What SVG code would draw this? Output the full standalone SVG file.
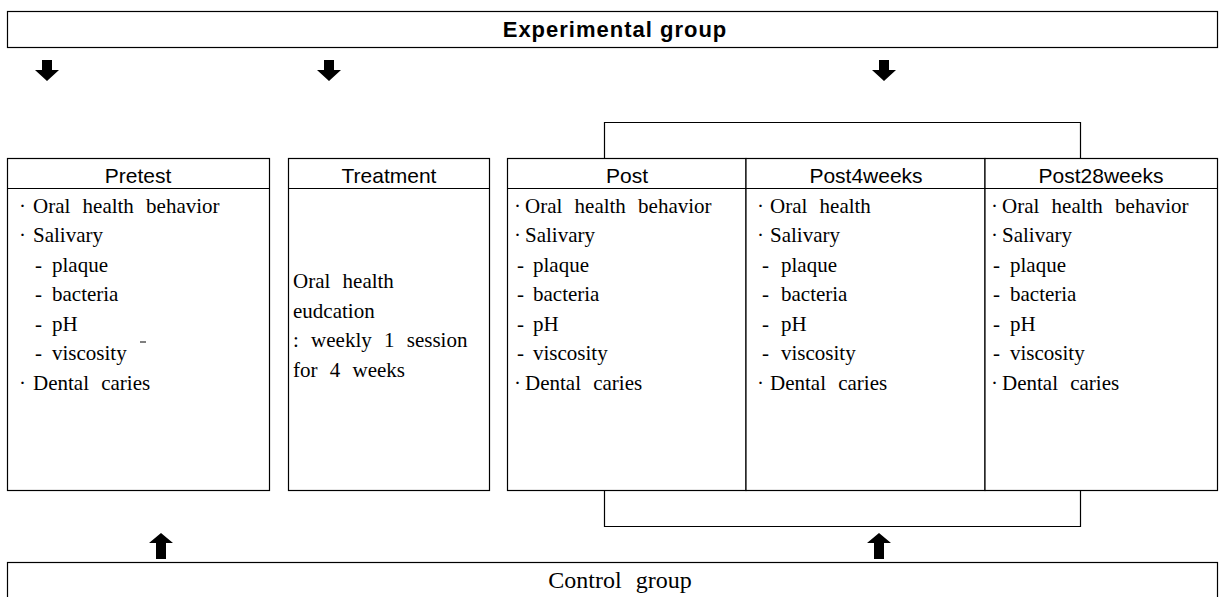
<svg xmlns="http://www.w3.org/2000/svg" width="1225" height="597" viewBox="0 0 1225 597">
<style>
  .box{fill:#fff;stroke:#000;stroke-width:1.2}
  .ln{fill:none;stroke:#000;stroke-width:1.2}
  .hd{font-family:"Liberation Sans",Arial,sans-serif;font-size:21px;text-anchor:middle;fill:#000}
  .tx{font-family:"Liberation Serif","Times New Roman",serif;font-size:21px;fill:#000;word-spacing:7px}
  .arr{fill:#000}
</style>
<defs>
  <path id="down" d="M-5,-21 H5 V-11 H12 L0,0 L-12,-11 H-5 Z"/>
  <path id="up" d="M-5,26 H5 V10 H12 L0,0 L-12,10 H-5 Z"/>
</defs>

<g id="experimental">
  <rect class="box" x="7.5" y="11.5" width="1210" height="36"/>
  <text x="615" y="37" style="font-family:'Liberation Sans',Arial,sans-serif;font-size:22px;font-weight:bold;letter-spacing:1px;text-anchor:middle">Experimental group</text>
</g>

<g id="control">
  <rect class="box" x="7.5" y="562.5" width="1210" height="45"/>
  <text x="620" y="588" style="font-family:'Liberation Serif','Times New Roman',serif;font-size:24px;word-spacing:8px;text-anchor:middle">Control group</text>
</g>

<g id="pretest">
  <rect class="box" x="7.5" y="158.5" width="262" height="332"/>
  <line class="ln" x1="7.5" y1="188.5" x2="269.5" y2="188.5"/>
  <text class="hd" x="138" y="183">Pretest</text>
  <text class="tx"><tspan x="19" y="213">·</tspan><tspan x="33" y="213">Oral health behavior</tspan></text>
  <text class="tx"><tspan x="19" y="242">·</tspan><tspan x="33" y="242">Salivary</tspan></text>
  <text class="tx"><tspan x="35" y="272">-</tspan><tspan x="52" y="272">plaque</tspan></text>
  <text class="tx"><tspan x="35" y="301">-</tspan><tspan x="52" y="301">bacteria</tspan></text>
  <text class="tx"><tspan x="35" y="331">-</tspan><tspan x="52" y="331">pH</tspan></text>
  <text class="tx"><tspan x="35" y="360">-</tspan><tspan x="52" y="360">viscosity</tspan></text>
  <line x1="140" y1="342" x2="146" y2="342" stroke="#000" stroke-width="1"/>
  <text class="tx"><tspan x="19" y="390">·</tspan><tspan x="33" y="390">Dental caries</tspan></text>
</g>

<g id="treatment">
  <rect class="box" x="288.5" y="158.5" width="201" height="332"/>
  <line class="ln" x1="288.5" y1="188.5" x2="489.5" y2="188.5"/>
  <text class="hd" x="389" y="183">Treatment</text>
  <text class="tx" x="293" y="288">Oral health</text>
  <text class="tx" x="293" y="318">eudcation</text>
  <text class="tx" x="293" y="347">: weekly 1 session</text>
  <text class="tx" x="293" y="377">for 4 weeks</text>
</g>

<g id="post">
  <rect class="box" x="507.5" y="158.5" width="238.5" height="332"/>
  <line class="ln" x1="507.5" y1="188.5" x2="746" y2="188.5"/>
  <text class="hd" x="627" y="183">Post</text>
  <text class="tx"><tspan x="514" y="213">·</tspan><tspan x="525" y="213">Oral health behavior</tspan></text>
  <text class="tx"><tspan x="514" y="242">·</tspan><tspan x="525" y="242">Salivary</tspan></text>
  <text class="tx"><tspan x="517" y="272">-</tspan><tspan x="533" y="272">plaque</tspan></text>
  <text class="tx"><tspan x="517" y="301">-</tspan><tspan x="533" y="301">bacteria</tspan></text>
  <text class="tx"><tspan x="517" y="331">-</tspan><tspan x="533" y="331">pH</tspan></text>
  <text class="tx"><tspan x="517" y="360">-</tspan><tspan x="533" y="360">viscosity</tspan></text>
  <text class="tx"><tspan x="514" y="390">·</tspan><tspan x="525" y="390">Dental caries</tspan></text>
</g>

<g id="post4weeks">
  <rect class="box" x="746" y="158.5" width="239" height="332"/>
  <line class="ln" x1="746" y1="188.5" x2="985" y2="188.5"/>
  <text class="hd" x="866" y="183">Post4weeks</text>
  <text class="tx"><tspan x="757" y="213">·</tspan><tspan x="770" y="213">Oral health</tspan></text>
  <text class="tx"><tspan x="757" y="242">·</tspan><tspan x="770" y="242">Salivary</tspan></text>
  <text class="tx"><tspan x="762" y="272">-</tspan><tspan x="781" y="272">plaque</tspan></text>
  <text class="tx"><tspan x="762" y="301">-</tspan><tspan x="781" y="301">bacteria</tspan></text>
  <text class="tx"><tspan x="762" y="331">-</tspan><tspan x="781" y="331">pH</tspan></text>
  <text class="tx"><tspan x="762" y="360">-</tspan><tspan x="781" y="360">viscosity</tspan></text>
  <text class="tx"><tspan x="757" y="390">·</tspan><tspan x="770" y="390">Dental caries</tspan></text>
</g>

<g id="post28weeks">
  <rect class="box" x="985" y="158.5" width="232.5" height="332"/>
  <line class="ln" x1="985" y1="188.5" x2="1217.5" y2="188.5"/>
  <text class="hd" x="1101" y="183">Post28weeks</text>
  <text class="tx"><tspan x="991" y="213">·</tspan><tspan x="1002" y="213">Oral health behavior</tspan></text>
  <text class="tx"><tspan x="991" y="242">·</tspan><tspan x="1002" y="242">Salivary</tspan></text>
  <text class="tx"><tspan x="993" y="272">-</tspan><tspan x="1010" y="272">plaque</tspan></text>
  <text class="tx"><tspan x="993" y="301">-</tspan><tspan x="1010" y="301">bacteria</tspan></text>
  <text class="tx"><tspan x="993" y="331">-</tspan><tspan x="1010" y="331">pH</tspan></text>
  <text class="tx"><tspan x="993" y="360">-</tspan><tspan x="1010" y="360">viscosity</tspan></text>
  <text class="tx"><tspan x="991" y="390">·</tspan><tspan x="1002" y="390">Dental caries</tspan></text>
</g>

<g id="connectors">
  <path class="ln" d="M604.5,158.5 V122.5 H1080.5 V158.5"/>
  <path class="ln" d="M604.5,490.5 V526.5 H1080.5 V490.5"/>
  <use href="#down" class="arr" x="47" y="81"/>
  <use href="#down" class="arr" x="329" y="81"/>
  <use href="#down" class="arr" x="884" y="81"/>
  <use href="#up" class="arr" x="161" y="533"/>
  <use href="#up" class="arr" x="879" y="533"/>
</g>
</svg>
